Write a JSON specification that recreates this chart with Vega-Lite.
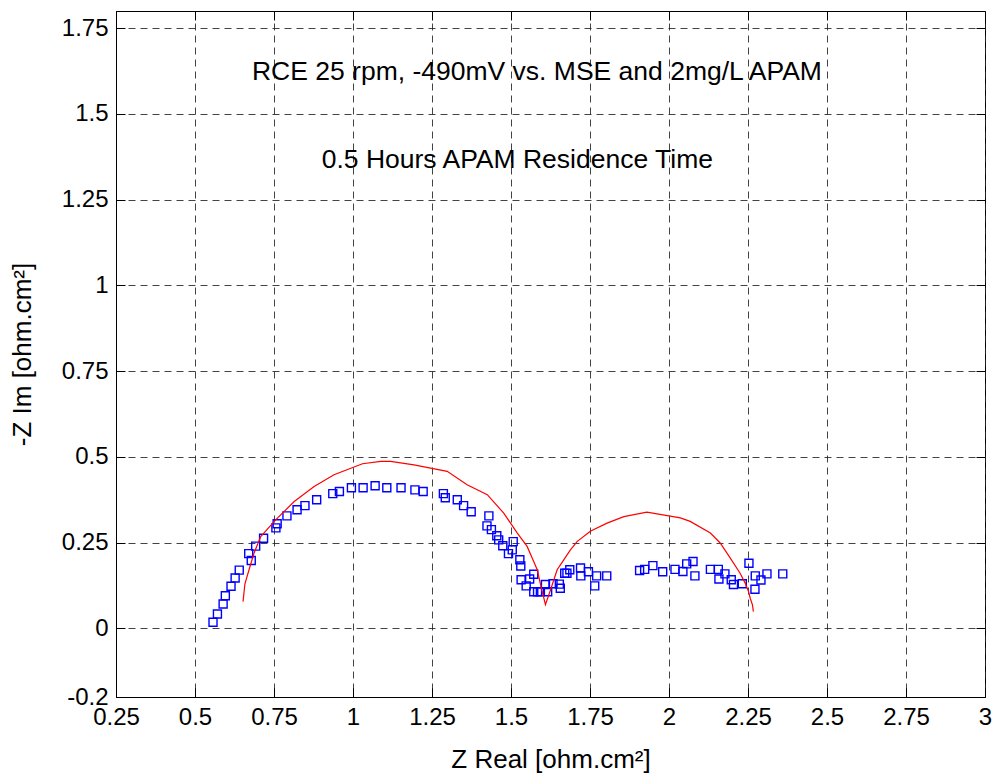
{
  "$schema": "https://vega.github.io/schema/vega-lite/v6.json",
  "width": 869,
  "height": 686,
  "autosize": {"type": "none"},
  "padding": {"left": 116, "top": 11, "right": 11, "bottom": 77},
  "background": "white",
  "config": {
    "view": {"stroke": "black", "strokeWidth": 1},
    "font": "Liberation Sans",
    "axis": {
      "labelFont": "Liberation Sans",
      "labelFontSize": 24,
      "labelColor": "black",
      "titleFont": "Liberation Sans",
      "titleFontSize": 26,
      "titleFontWeight": "normal",
      "titleColor": "black",
      "domainColor": "black",
      "tickColor": "black",
      "gridColor": "#222",
      "gridDash": [7, 5],
      "gridOpacity": 0.85,
      "gridWidth": 1
    }
  },
  "datasets": {
    "points": [
      {"zr": 0.557, "zi": 0.018}, {"zr": 0.571, "zi": 0.042}, {"zr": 0.589, "zi": 0.071}, {"zr": 0.596, "zi": 0.095},
      {"zr": 0.614, "zi": 0.123}, {"zr": 0.627, "zi": 0.147}, {"zr": 0.640, "zi": 0.170}, {"zr": 0.678, "zi": 0.198},
      {"zr": 0.670, "zi": 0.218}, {"zr": 0.692, "zi": 0.240}, {"zr": 0.717, "zi": 0.263}, {"zr": 0.756, "zi": 0.293},
      {"zr": 0.760, "zi": 0.305}, {"zr": 0.791, "zi": 0.328}, {"zr": 0.823, "zi": 0.346}, {"zr": 0.848, "zi": 0.358},
      {"zr": 0.885, "zi": 0.375}, {"zr": 0.936, "zi": 0.393}, {"zr": 0.957, "zi": 0.399}, {"zr": 0.995, "zi": 0.410},
      {"zr": 1.032, "zi": 0.410}, {"zr": 1.070, "zi": 0.416}, {"zr": 1.107, "zi": 0.410}, {"zr": 1.152, "zi": 0.410},
      {"zr": 1.196, "zi": 0.404}, {"zr": 1.222, "zi": 0.399}, {"zr": 1.286, "zi": 0.393}, {"zr": 1.292, "zi": 0.381},
      {"zr": 1.330, "zi": 0.375}, {"zr": 1.350, "zi": 0.358}, {"zr": 1.374, "zi": 0.340}, {"zr": 1.430, "zi": 0.328},
      {"zr": 1.424, "zi": 0.299}, {"zr": 1.438, "zi": 0.288}, {"zr": 1.455, "zi": 0.270}, {"zr": 1.461, "zi": 0.258},
      {"zr": 1.474, "zi": 0.241}, {"zr": 1.507, "zi": 0.253}, {"zr": 1.504, "zi": 0.229}, {"zr": 1.492, "zi": 0.218},
      {"zr": 1.528, "zi": 0.200}, {"zr": 1.531, "zi": 0.182}, {"zr": 1.532, "zi": 0.142}, {"zr": 1.559, "zi": 0.144},
      {"zr": 1.572, "zi": 0.158}, {"zr": 1.548, "zi": 0.124}, {"zr": 1.572, "zi": 0.107}, {"zr": 1.584, "zi": 0.107},
      {"zr": 1.593, "zi": 0.107}, {"zr": 1.609, "zi": 0.128}, {"zr": 1.616, "zi": 0.107}, {"zr": 1.633, "zi": 0.130},
      {"zr": 1.653, "zi": 0.129}, {"zr": 1.656, "zi": 0.117}, {"zr": 1.677, "zi": 0.161}, {"zr": 1.670, "zi": 0.161},
      {"zr": 1.686, "zi": 0.171}, {"zr": 1.720, "zi": 0.176}, {"zr": 1.721, "zi": 0.153}, {"zr": 1.745, "zi": 0.165},
      {"zr": 1.765, "zi": 0.124}, {"zr": 1.771, "zi": 0.153}, {"zr": 1.803, "zi": 0.153}, {"zr": 1.907, "zi": 0.169},
      {"zr": 1.923, "zi": 0.172}, {"zr": 1.949, "zi": 0.183}, {"zr": 1.980, "zi": 0.165}, {"zr": 2.019, "zi": 0.172},
      {"zr": 2.044, "zi": 0.166}, {"zr": 2.056, "zi": 0.188}, {"zr": 2.076, "zi": 0.195}, {"zr": 2.082, "zi": 0.153},
      {"zr": 2.131, "zi": 0.172}, {"zr": 2.156, "zi": 0.172}, {"zr": 2.158, "zi": 0.144}, {"zr": 2.177, "zi": 0.159},
      {"zr": 2.197, "zi": 0.142}, {"zr": 2.204, "zi": 0.128}, {"zr": 2.232, "zi": 0.130}, {"zr": 2.253, "zi": 0.190},
      {"zr": 2.272, "zi": 0.114}, {"zr": 2.273, "zi": 0.153}, {"zr": 2.291, "zi": 0.141}, {"zr": 2.310, "zi": 0.159},
      {"zr": 2.360, "zi": 0.159}
    ],
    "fit": [
      {"i": 1, "zr": 0.652, "zi": 0.078}, {"i": 2, "zr": 0.658, "zi": 0.130}, {"i": 3, "zr": 0.671, "zi": 0.171},
      {"i": 4, "zr": 0.687, "zi": 0.220}, {"i": 5, "zr": 0.708, "zi": 0.268}, {"i": 6, "zr": 0.756, "zi": 0.317},
      {"i": 7, "zr": 0.814, "zi": 0.370}, {"i": 8, "zr": 0.877, "zi": 0.414}, {"i": 9, "zr": 0.940, "zi": 0.448},
      {"i": 10, "zr": 1.030, "zi": 0.480}, {"i": 11, "zr": 1.088, "zi": 0.487}, {"i": 12, "zr": 1.119, "zi": 0.487},
      {"i": 13, "zr": 1.193, "zi": 0.477}, {"i": 14, "zr": 1.298, "zi": 0.458}, {"i": 15, "zr": 1.361, "zi": 0.419},
      {"i": 16, "zr": 1.425, "zi": 0.390}, {"i": 17, "zr": 1.477, "zi": 0.336}, {"i": 18, "zr": 1.520, "zi": 0.278},
      {"i": 19, "zr": 1.551, "zi": 0.239}, {"i": 20, "zr": 1.567, "zi": 0.205}, {"i": 21, "zr": 1.583, "zi": 0.171},
      {"i": 22, "zr": 1.595, "zi": 0.122}, {"i": 23, "zr": 1.609, "zi": 0.069}, {"i": 24, "zr": 1.625, "zi": 0.112},
      {"i": 25, "zr": 1.646, "zi": 0.171}, {"i": 26, "zr": 1.667, "zi": 0.200}, {"i": 27, "zr": 1.688, "zi": 0.229},
      {"i": 28, "zr": 1.709, "zi": 0.253}, {"i": 29, "zr": 1.751, "zi": 0.283}, {"i": 30, "zr": 1.804, "zi": 0.307},
      {"i": 31, "zr": 1.857, "zi": 0.326}, {"i": 32, "zr": 1.930, "zi": 0.339}, {"i": 33, "zr": 2.036, "zi": 0.322},
      {"i": 34, "zr": 2.067, "zi": 0.312}, {"i": 35, "zr": 2.131, "zi": 0.278}, {"i": 36, "zr": 2.162, "zi": 0.249},
      {"i": 37, "zr": 2.194, "zi": 0.205}, {"i": 38, "zr": 2.225, "zi": 0.161}, {"i": 39, "zr": 2.241, "zi": 0.132},
      {"i": 40, "zr": 2.252, "zi": 0.107}, {"i": 41, "zr": 2.257, "zi": 0.088}, {"i": 42, "zr": 2.264, "zi": 0.069},
      {"i": 43, "zr": 2.267, "zi": 0.049}
    ],
    "notes": [
      {"zr": 1.582, "zi": 1.622, "label": "RCE 25 rpm, -490mV vs. MSE and 2mg/L APAM"},
      {"zr": 1.520, "zi": 1.366, "label": "0.5 Hours APAM Residence Time"}
    ]
  },
  "resolve": {"axis": {"x": "independent", "y": "independent"}},
  "layer": [
    {
      "data": {"name": "points"},
      "mark": {"type": "point", "shape": "square", "filled": false, "stroke": "#0000ff", "strokeWidth": 1.4, "size": 64, "opacity": 1},
      "encoding": {
        "x": {
          "field": "zr", "type": "quantitative",
          "scale": {"domain": [0.25, 3], "nice": false, "zero": false},
          "axis": {
            "title": "Z Real [ohm.cm²]",
            "values": [0.25, 0.5, 0.75, 1, 1.25, 1.5, 1.75, 2, 2.25, 2.5, 2.75, 3],
            "labelExpr": "'' + datum.value",
            "tickSize": -9, "labelPadding": 17, "titlePadding": 17,
            "grid": true, "labelFlush": false, "labelOverlap": false
          }
        },
        "y": {
          "field": "zi", "type": "quantitative",
          "scale": {"domain": [-0.2, 1.8], "nice": false, "zero": false},
          "axis": {
            "title": "-Z Im [ohm.cm²]",
            "values": [-0.2, 0, 0.25, 0.5, 0.75, 1, 1.25, 1.5, 1.75],
            "labelExpr": "'' + datum.value",
            "tickSize": -9, "labelPadding": 17, "titlePadding": 26,
            "grid": true, "labelFlush": false, "labelOverlap": false
          }
        }
      }
    },
    {
      "data": {"name": "fit"},
      "mark": {"type": "line", "color": "#ff0000", "strokeWidth": 1.2},
      "encoding": {
        "x": {"field": "zr", "type": "quantitative", "axis": null},
        "y": {"field": "zi", "type": "quantitative", "axis": null},
        "order": {"field": "i", "type": "quantitative"}
      }
    },
    {
      "data": {"name": "notes"},
      "mark": {"type": "text", "font": "Liberation Sans", "fontSize": 26.5, "color": "black", "align": "center", "baseline": "middle"},
      "encoding": {
        "x": {"field": "zr", "type": "quantitative", "axis": null},
        "y": {"field": "zi", "type": "quantitative", "axis": null},
        "text": {"field": "label"}
      }
    },
    {
      "data": {"name": "notes"},
      "mark": {"type": "point", "opacity": 0},
      "encoding": {
        "x": {
          "field": "zr", "type": "quantitative",
          "axis": {"orient": "top", "title": null, "labels": false, "grid": false, "domain": false, "tickSize": -9,
                   "values": [0.25, 0.5, 0.75, 1, 1.25, 1.5, 1.75, 2, 2.25, 2.5, 2.75, 3]}
        },
        "y": {
          "field": "zi", "type": "quantitative",
          "axis": {"orient": "right", "title": null, "labels": false, "grid": false, "domain": false, "tickSize": -9,
                   "values": [-0.2, 0, 0.25, 0.5, 0.75, 1, 1.25, 1.5, 1.75]}
        }
      }
    }
  ]
}
